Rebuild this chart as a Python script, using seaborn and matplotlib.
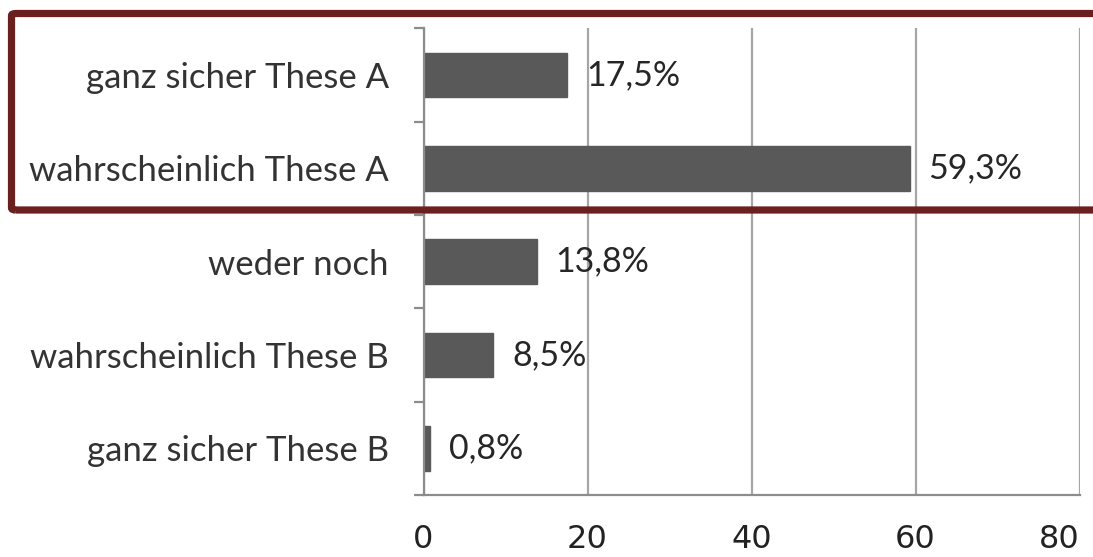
import matplotlib
matplotlib.use("Agg")
import matplotlib.pyplot as plt
import seaborn as sns
import pandas as pd
from matplotlib.patches import FancyBboxPatch
from matplotlib.ticker import FixedLocator

categories = ["ganz sicher These A", "wahrscheinlich These A", "weder noch",
              "wahrscheinlich These B", "ganz sicher These B"]
values = [17.5, 59.3, 13.8, 8.5, 0.8]
value_labels = ["17,5%", "59,3%", "13,8%", "8,5%", "0,8%"]
xticks = [0, 20, 40, 60, 80]

sns.set_theme(style="white")
plt.rcParams['font.family'] = ['Lato', 'DejaVu Sans']

df = pd.DataFrame({"cat": categories, "val": values})

fig = plt.figure(figsize=(10.93, 5.57), dpi=100)
ax = fig.add_axes([423.5/1093, 1 - 495/557, (1079.5-423.5)/1093, (495-28.4)/557])

sns.barplot(data=df, y="cat", x="val", orient="h", color="#595959",
            saturation=1, width=0.48, ax=ax, edgecolor="#595959")

ax.set_xlim(0, 80)
ax.set_ylim(len(categories) - 0.5, -0.5)
ax.set_xlabel("")
ax.set_ylabel("")

# grid
ax.set_xticks(xticks)
ax.set_xticklabels([str(t) for t in xticks])
ax.xaxis.grid(True, color="#a6a6a6", linewidth=1.6)
ax.yaxis.grid(False)
ax.set_axisbelow(True)

for s in ["top", "right"]:
    ax.spines[s].set_visible(False)
for s in ["left", "bottom"]:
    ax.spines[s].set_color("#8c8c8c")
    ax.spines[s].set_linewidth(1.6)

ax.tick_params(axis="x", which="major", length=7.2, width=1.6, color="#8c8c8c",
               pad=14, labelsize=23, labelcolor="#222222")
xt = ax.get_xticklabels()
for lbl in xt:
    lbl.set_fontfamily(["DejaVu Sans"])
xt[-1].set_horizontalalignment("right")
xt[-1].set_x(80)

# category ticks at boundaries
ax.yaxis.set_minor_locator(FixedLocator([i - 0.5 for i in range(len(categories) + 1)]))
ax.tick_params(axis="y", which="minor", length=7.2, width=1.6, color="#8c8c8c", left=True)
ax.tick_params(axis="y", which="major", length=0, pad=25, labelsize=25, labelcolor="#333333")

for i, (v, t) in enumerate(zip(values, value_labels)):
    ax.annotate(t, xy=(v, i), xytext=(13.5, 0), textcoords="offset points",
                va="center", ha="left", fontsize=24.5, color="#262626")

# highlight frame
W, H = 1093, 557
box = FancyBboxPatch((11.5 / W, 1 - 210 / H), (1110 - 11.5) / W, (210 - 13.5) / H,
                     boxstyle="round,pad=0,rounding_size=0.004",
                     transform=fig.transFigure, fill=False,
                     edgecolor="#6b2020", linewidth=5.2, clip_on=False)
fig.patches.append(box)

fig.savefig("out.png", dpi=100)
